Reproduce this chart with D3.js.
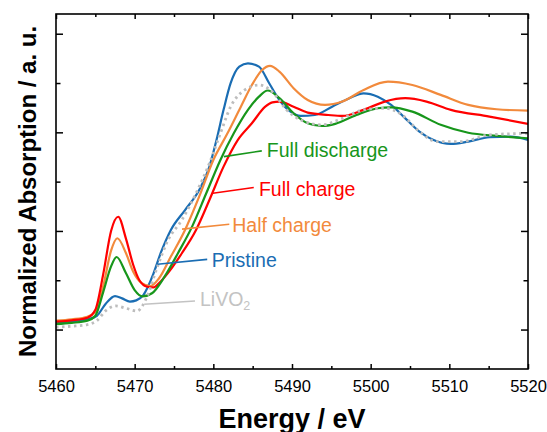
<!DOCTYPE html>
<html lang="en">
<head>
<meta charset="UTF-8">
<title>XANES</title>
<style>
  body { margin:0; background:#fff; }
  svg { display:block; }
</style>
</head>
<body>
<svg width="547" height="432"></svg>
<script src="https://cdn.jsdelivr.net/npm/d3@7"></script>
<script>
// energy (eV), normalized absorption (a.u.)
const pristine = [[5460,0.035],[5462,0.042],[5464,0.052],[5465.2,0.07],[5466.3,0.13],[5467.5,0.17],[5468.4,0.158],[5469.4,0.142],[5470.2,0.148],[5471.1,0.175],[5472.4,0.285],[5473.3,0.387],[5474.6,0.505],[5476.4,0.606],[5478.2,0.708],[5479.5,0.826],[5480.4,0.961],[5481.3,1.114],[5482.2,1.249],[5483.3,1.333],[5484.4,1.35],[5485.8,1.333],[5487.1,1.249],[5488.4,1.164],[5489.8,1.105],[5491.1,1.083],[5492.9,1.088],[5495.1,1.13],[5497.3,1.173],[5499.1,1.198],[5500.9,1.181],[5502.6,1.139],[5504.4,1.071],[5506.2,1.004],[5508,0.961],[5510.2,0.941],[5512.4,0.953],[5515.1,0.975],[5517.8,0.978],[5520,0.961]];
const halfCharge = [[5460,0.045],[5462,0.052],[5464,0.065],[5465,0.09],[5466,0.22],[5467,0.4],[5467.8,0.463],[5468.9,0.387],[5469.8,0.294],[5470.9,0.235],[5472,0.22],[5473.1,0.26],[5474.6,0.37],[5476.4,0.505],[5478.2,0.674],[5480,0.86],[5481.8,0.995],[5483.5,1.13],[5484.9,1.24],[5486.2,1.316],[5487.2,1.337],[5488.4,1.308],[5490.2,1.224],[5492,1.164],[5494.2,1.139],[5496.4,1.156],[5499.1,1.215],[5502.2,1.257],[5505.3,1.24],[5508.9,1.19],[5512.4,1.139],[5516,1.117],[5520,1.11]];
const fullCharge = [[5460,0.04],[5462,0.047],[5464,0.06],[5465,0.1],[5466,0.28],[5467,0.5],[5467.9,0.572],[5468.9,0.46],[5469.8,0.33],[5470.6,0.25],[5471.6,0.217],[5472.4,0.214],[5473.2,0.24],[5474.2,0.285],[5476,0.387],[5477.8,0.505],[5479.5,0.657],[5481.3,0.826],[5483.1,0.961],[5484.9,1.046],[5486.6,1.13],[5487.5,1.152],[5488.4,1.156],[5490.2,1.13],[5492,1.1],[5494.6,1.088],[5496.4,1.083],[5499.1,1.114],[5501.8,1.156],[5504.4,1.173],[5507.1,1.156],[5510.2,1.114],[5515.1,1.08],[5520,1.043]];
const fullDischarge = [[5460,0.028],[5462,0.034],[5464,0.045],[5465,0.07],[5466,0.19],[5467,0.32],[5467.7,0.368],[5468.9,0.285],[5470,0.2],[5471,0.168],[5472.2,0.184],[5473.8,0.268],[5475.5,0.387],[5477.3,0.522],[5479.1,0.691],[5480.9,0.86],[5482.6,0.995],[5484.4,1.114],[5485.8,1.181],[5486.9,1.212],[5488.4,1.173],[5490.2,1.097],[5492,1.046],[5493.8,1.032],[5495.5,1.043],[5498.2,1.088],[5500.9,1.122],[5502.6,1.127],[5505.3,1.105],[5508.9,1.038],[5512.4,0.998],[5516,0.982],[5520,0.97]];
const livo2 = [[5460,0.012],[5462,0.017],[5464,0.025],[5465.2,0.045],[5466.3,0.095],[5467.6,0.12],[5468.9,0.108],[5470.3,0.094],[5471.5,0.16],[5472.9,0.32],[5474.2,0.45],[5476,0.556],[5477.8,0.691],[5479.5,0.843],[5480.9,0.995],[5482.2,1.13],[5484,1.215],[5485.8,1.24],[5487.5,1.206],[5489.3,1.114],[5491.1,1.063],[5493.8,1.038],[5496.4,1.071],[5499.1,1.114],[5501.8,1.122],[5504,1.088],[5506.2,1.004],[5508.4,0.953],[5511.5,0.953],[5515.1,0.987],[5520,0.995]];

const xTicks = [5460, 5470, 5480, 5490, 5500, 5510, 5520];
const xMinor = [5465, 5475, 5485, 5495, 5505, 5515];
const yTicks = [0, 0.5, 1, 1.5];
const yMinor = [0.25, 0.75, 1.25];

// label name, leader line start/end (data coords), text anchor (data coords)
const labels = [
  {name: "Full discharge", color: "#17961b", from: [5481.35, 0.877], to: [5486.16, 0.906], at: [5486.8, 0.873]},
  {name: "Full charge",    color: "#ff0000", from: [5479.93, 0.691], to: [5485.14, 0.72],  at: [5485.8, 0.675]},
  {name: "Half charge",    color: "#f28a3c", from: [5476.02, 0.509], to: [5482.03, 0.534], at: [5482.4, 0.494]},
  {name: "Pristine",       color: "#1a6db3", from: [5472.9, 0.331],  to: [5479.22, 0.356], at: [5479.8, 0.319]},
  {name: "LiVO",           color: "#c3c3c3", from: [5471.21, 0.128], to: [5477.67, 0.145], at: [5478.3, 0.121], sub: "2"}
];

const svg = d3.select("svg");
const m = {left: 56, right: 528, top: 14, bottom: 369};
const font = "'Liberation Sans', Arial, sans-serif";

const x = d3.scaleLinear().domain([5460, 5520]).range([m.left, m.right]);
const y = d3.scaleLinear().domain([-0.2, 1.6]).range([m.bottom, m.top]);

const line = d3.line()
  .x(d => x(d[0]))
  .y(d => y(d[1]))
  .curve(d3.curveMonotoneX);

svg.append("clipPath").attr("id", "clip")
  .append("rect").attr("x", m.left).attr("y", m.top)
  .attr("width", m.right - m.left).attr("height", m.bottom - m.top);

const plot = svg.append("g").attr("clip-path", "url(#clip)");

const series = [
  {data: pristine, color: "#1a6db3"},
  {data: halfCharge, color: "#f28a3c"},
  {data: fullCharge, color: "#ff0000"},
  {data: fullDischarge, color: "#17961b"},
  {data: livo2, color: "#bdbdbd", dash: "2.5,3.5"}
];

series.forEach(s => {
  plot.append("path")
    .attr("d", line(s.data))
    .attr("fill", "none")
    .attr("stroke", s.color)
    .attr("stroke-width", s.dash ? 2.8 : 2.2)
    .attr("stroke-dasharray", s.dash || null);
});

// annotations
labels.forEach(l => {
  svg.append("line")
    .attr("x1", x(l.from[0])).attr("y1", y(l.from[1]))
    .attr("x2", x(l.to[0])).attr("y2", y(l.to[1]))
    .attr("stroke", l.color).attr("stroke-width", 1.6);
  const t = svg.append("text")
    .attr("x", x(l.at[0])).attr("y", y(l.at[1]))
    .attr("fill", l.color)
    .style("font-family", font).style("font-size", "19.5px")
    .text(l.name);
  if (l.sub) {
    t.append("tspan").attr("dy", 4).style("font-size", "12.5px").text(l.sub);
  }
});

// axes, ticks pointing inward
function styleAxis(g) {
  g.select(".domain").remove();
  g.selectAll("line").attr("stroke", "#000").attr("stroke-width", 1.5);
  g.selectAll("text").style("font-family", font).style("font-size", "16.5px").attr("fill", "#000");
}

svg.append("g").attr("transform", `translate(0,${m.bottom})`)
  .call(d3.axisBottom(x).tickValues(xTicks).tickSize(-5).tickPadding(11).tickFormat(d3.format("d")))
  .call(styleAxis);
svg.append("g").attr("transform", `translate(0,${m.bottom})`)
  .call(d3.axisBottom(x).tickValues(xMinor).tickSize(-3).tickFormat(""))
  .call(styleAxis);
svg.append("g").attr("transform", `translate(0,${m.top})`)
  .call(d3.axisTop(x).tickValues(xTicks).tickSize(-5).tickFormat(""))
  .call(styleAxis);
svg.append("g").attr("transform", `translate(0,${m.top})`)
  .call(d3.axisTop(x).tickValues(xMinor).tickSize(-3).tickFormat(""))
  .call(styleAxis);
svg.append("g").attr("transform", `translate(${m.left},0)`)
  .call(d3.axisLeft(y).tickValues(yTicks).tickSize(-7).tickFormat(""))
  .call(styleAxis);
svg.append("g").attr("transform", `translate(${m.left},0)`)
  .call(d3.axisLeft(y).tickValues(yMinor).tickSize(-4.5).tickFormat(""))
  .call(styleAxis);
svg.append("g").attr("transform", `translate(${m.right},0)`)
  .call(d3.axisRight(y).tickValues(yTicks).tickSize(-7).tickFormat(""))
  .call(styleAxis);
svg.append("g").attr("transform", `translate(${m.right},0)`)
  .call(d3.axisRight(y).tickValues(yMinor).tickSize(-4.5).tickFormat(""))
  .call(styleAxis);

svg.append("rect")
  .attr("x", m.left).attr("y", m.top)
  .attr("width", m.right - m.left).attr("height", m.bottom - m.top)
  .attr("fill", "none").attr("stroke", "#000").attr("stroke-width", 1.6);

svg.append("text")
  .attr("x", (m.left + m.right) / 2).attr("y", 428)
  .attr("text-anchor", "middle")
  .style("font-family", font).style("font-size", "27px").style("font-weight", "bold")
  .text("Energy / eV");

svg.append("text")
  .attr("transform", `translate(36,${(m.top + m.bottom) / 2}) rotate(-90)`)
  .attr("text-anchor", "middle")
  .style("font-family", font).style("font-size", "24px").style("font-weight", "bold")
  .text("Normalized Absorption / a. u.");
</script>
</body>
</html>
